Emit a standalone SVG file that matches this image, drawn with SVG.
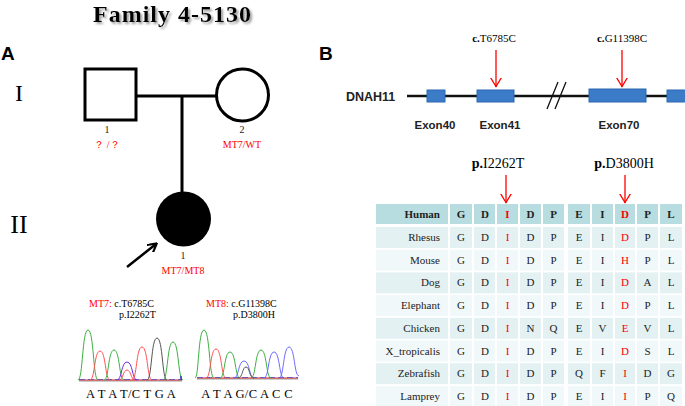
<svg xmlns="http://www.w3.org/2000/svg" width="685" height="406" viewBox="0 0 685 406">
<defs>
<style>
.serif{font-family:"Liberation Serif","Times New Roman",serif}
.sans{font-family:"Liberation Sans",Arial,sans-serif}
.ped{fill:none;stroke:#000;stroke-width:3}
.lbl{font-size:10px;text-anchor:middle;fill:#222}
.exon{fill:#3b7bc8;stroke:#2c69b0;stroke-width:1}
.exl{font-size:11.5px;font-weight:bold;text-anchor:middle;fill:#222}
.ra{stroke:#ff0000;stroke-width:1.3;fill:none}
.hd{fill:#b8dde1}
.r0{fill:#e3f1f3}
.r1{fill:#f1f8fa}
.tc{font-size:11px;text-anchor:middle;fill:#222}
.sp{font-size:11px;text-anchor:end;fill:#222}
.pk{fill:none;stroke-width:1}
.red,.tc.red,.lbl.red{fill:#ff0000}
</style>
<marker id="rh" viewBox="0 0 10 12" refX="9.5" refY="6" markerWidth="10" markerHeight="12" markerUnits="userSpaceOnUse" orient="auto">
<path d="M0,0.5 L9,6 L0,11.5" fill="none" stroke="#ff0000" stroke-width="1.3"/>
</marker>
<marker id="bh" viewBox="0 0 10 10" refX="8" refY="5" markerWidth="4" markerHeight="4" orient="auto">
<path d="M0,0 L9,5 L0,10" fill="none" stroke="#000" stroke-width="2.2"/>
</marker>
<filter id="sh" x="-10%" y="-40%" width="125%" height="190%">
<feGaussianBlur in="SourceAlpha" stdDeviation="1.2" result="b"/>
<feOffset dx="2" dy="2" result="o"/>
<feFlood flood-color="#888" flood-opacity="0.8"/>
<feComposite in2="o" operator="in" result="s"/>
<feMerge><feMergeNode in="s"/><feMergeNode in="SourceGraphic"/></feMerge>
</filter>
</defs>
<rect width="685" height="406" fill="#fff"/>

<!-- Title -->
<g id="title">
<text x="93" y="22" class="serif" font-size="24" font-weight="bold" fill="#000" textLength="158" lengthAdjust="spacing" filter="url(#sh)">Family 4-5130</text>
</g>
<text x="1" y="60" class="sans" font-size="19" font-weight="bold">A</text>
<text x="319" y="60" class="sans" font-size="19" font-weight="bold">B</text>

<!-- Pedigree -->
<text x="19" y="101" class="serif" font-size="24" text-anchor="middle">I</text>
<text x="19" y="233" class="serif" font-size="26" text-anchor="middle">II</text>
<g id="connectors">
<line x1="137" y1="96" x2="216" y2="96" stroke="#000" stroke-width="3"/>
<line x1="182" y1="96" x2="182" y2="193" stroke="#000" stroke-width="3"/>
<line x1="127" y1="267" x2="156" y2="244" stroke="#000" stroke-width="2.5" marker-end="url(#bh)"/>
</g>
<g id="I-1">
<rect x="85" y="69" width="51" height="51" class="ped"/>
<text x="107" y="133" class="serif lbl">1</text>
<text x="107" y="148" class="serif lbl red">？ /？</text>
</g>
<g id="I-2">
<circle cx="242.5" cy="95" r="26" class="ped"/>
<text x="242" y="133" class="serif lbl">2</text>
<text x="242" y="148" class="serif lbl red">MT7/WT</text>
</g>
<g id="II-1">
<circle cx="183.5" cy="219" r="27.5" fill="#000"/>
<text x="183" y="259" class="serif lbl">1</text>
<text x="183" y="274" class="serif lbl red">MT7/MT8</text>
</g>

<!-- Mutation labels -->
<text x="89" y="307" class="serif" font-size="10"><tspan fill="#ff0000">MT7:</tspan> c.T6785C</text>
<text x="119" y="318" class="serif" font-size="10">p.I2262T</text>
<text x="206" y="307" class="serif" font-size="10"><tspan fill="#ff0000">MT8:</tspan> c.G11398C</text>
<text x="233" y="318" class="serif" font-size="10">p.D3800H</text>

<!-- Chromatogram 1 -->
<g id="chrom1">
<line x1="79" y1="381" x2="182" y2="381" stroke="#ccc" stroke-width="2"/>
<line x1="79" y1="380" x2="182" y2="380" stroke="#d02020" stroke-width="1"/>
<line x1="79" y1="379.5" x2="182" y2="379.5" stroke="#3030c0" stroke-width="0.6" stroke-dasharray="6 3"/>
<path class="pk" stroke="#3cb043" d="M78,380 C83,380 82,330 88,330 C94,330 93,380 98,380"/>
<path class="pk" stroke="#ff5050" d="M90,380 C95,380 94,351 100,351 C106,351 105,380 110,380"/>
<path class="pk" stroke="#3cb043" d="M104,380 C109,380 108,350 114,350 C120,350 119,380 124,380"/>
<path class="pk" stroke="#ff5050" d="M119,380 C123,380 123,370 127,370 C131,370 131,380 135,380"/>
<path class="pk" stroke="#6a30e0" d="M117,380 C122,380 121,362 127,362 C133,362 132,380 137,380"/>
<path class="pk" stroke="#ff5050" d="M132,380 C137,380 136,347 142,347 C148,347 147,380 152,380"/>
<path class="pk" stroke="#555" d="M147,380 C152,380 151,338 157,338 C163,338 162,380 167,380"/>
<path class="pk" stroke="#3cb043" d="M163,380 C168,380 167,342 173,342 C179,342 178,380 183,380"/>
<line x1="181" y1="376" x2="181" y2="380" stroke="#3030c0" stroke-width="1.5"/>
</g>
<text x="131" y="398" class="serif" font-size="12.5" text-anchor="middle" letter-spacing="0.3">A T A T/C  T G  A</text>

<!-- Chromatogram 2 -->
<g id="chrom2">
<line x1="197" y1="379" x2="298" y2="379" stroke="#ccc" stroke-width="2"/>
<line x1="197" y1="378" x2="298" y2="378" stroke="#d02020" stroke-width="1"/>
<line x1="197" y1="377.5" x2="298" y2="377.5" stroke="#3030c0" stroke-width="0.6" stroke-dasharray="6 3"/>
<path class="pk" stroke="#3cb043" d="M195,378 C199,378 198,330 204,330 C210,330 209,378 214,378"/>
<path class="pk" stroke="#ff5050" d="M206,378 C211,378 210,349 216,349 C222,349 221,378 226,378"/>
<path class="pk" stroke="#3cb043" d="M220,378 C225,378 224,352 230,352 C236,352 235,378 240,378"/>
<path class="pk" stroke="#6a6aff" d="M234,378 C239,378 238,361 244,361 C250,361 249,378 254,378"/>
<path class="pk" stroke="#555" d="M238,378 C243,378 242,367 246,367 C250,367 249,378 254,378"/>
<path class="pk" stroke="#3cb043" d="M251,378 C256,378 255,350 261,350 C267,350 266,378 271,378"/>
<path class="pk" stroke="#6a6aff" d="M264,378 C269,378 268,352 274,352 C280,352 279,378 284,378"/>
<path class="pk" stroke="#6a6aff" d="M279,378 C284,378 283,347 289,347 C295,347 294,376 299,376"/>
</g>
<text x="247" y="398" class="serif" font-size="12.5" text-anchor="middle" letter-spacing="0.3">A T  A G/C A C C</text>

<!-- Gene structure -->
<g id="gene">
<text x="346" y="101" class="sans" font-size="12.5" font-weight="bold" fill="#222">DNAH11</text>
<line x1="407" y1="96" x2="685" y2="96" stroke="#111" stroke-width="2.5"/>
<rect x="427" y="90" width="18" height="12" class="exon"/>
<rect x="477" y="90" width="37" height="12" class="exon"/>
<rect x="589" y="89" width="57" height="13" class="exon"/>
<rect x="667" y="90" width="20" height="12" class="exon"/>
<line x1="547" y1="109" x2="558" y2="82" stroke="#111" stroke-width="1.3"/>
<line x1="555" y1="109" x2="566" y2="82" stroke="#111" stroke-width="1.3"/>
<text x="435" y="129" class="sans exl">Exon40</text>
<text x="500" y="129" class="sans exl">Exon41</text>
<text x="619" y="129" class="sans exl">Exon70</text>
<text x="494" y="42" class="serif" font-size="11" text-anchor="middle"><tspan font-weight="bold">c.</tspan>T6785C</text>
<text x="622" y="42" class="serif" font-size="11" text-anchor="middle"><tspan font-weight="bold">c.</tspan>G11398C</text>
<line x1="496" y1="50" x2="496" y2="87" class="ra" marker-end="url(#rh)"/>
<line x1="622" y1="50" x2="622" y2="87" class="ra" marker-end="url(#rh)"/>
</g>

<!-- Protein labels -->
<text x="498" y="168" class="serif" font-size="14" text-anchor="middle"><tspan font-weight="bold">p.</tspan>I2262T</text>
<text x="624" y="168" class="serif" font-size="14" text-anchor="middle"><tspan font-weight="bold">p.</tspan>D3800H</text>
<line x1="506" y1="175" x2="506" y2="203" class="ra" marker-end="url(#rh)"/>
<line x1="625" y1="175" x2="625" y2="203" class="ra" marker-end="url(#rh)"/>

<!-- Alignment table -->
<g id="table" class="serif">
<g class="hd">
<rect x="376" y="204" width="72" height="20"/><rect x="450" y="204" width="22" height="20"/><rect x="474" y="204" width="21" height="20"/><rect x="497" y="204" width="21" height="20"/><rect x="520" y="204" width="21" height="20"/><rect x="543" y="204" width="21" height="20"/><rect x="568" y="204" width="22" height="20"/><rect x="592" y="204" width="21" height="20"/><rect x="615" y="204" width="20" height="20"/><rect x="637" y="204" width="21" height="20"/><rect x="660" y="204" width="22" height="20"/>
</g>
<g font-weight="bold">
<text x="440" y="218" class="sp">Human</text>
<text x="461" y="218" class="tc">G</text><text x="485" y="218" class="tc">D</text><text x="507.5" y="218" class="tc red">I</text><text x="530.5" y="218" class="tc">D</text><text x="553.5" y="218" class="tc">P</text><text x="579" y="218" class="tc">E</text><text x="602.5" y="218" class="tc">I</text><text x="625" y="218" class="tc red">D</text><text x="647.5" y="218" class="tc">P</text><text x="671" y="218" class="tc">L</text>
</g>
<!-- rows -->
<g class="r0"><rect x="376" y="227" width="72" height="21"/><rect x="450" y="227" width="22" height="21"/><rect x="474" y="227" width="21" height="21"/><rect x="497" y="227" width="21" height="21"/><rect x="520" y="227" width="21" height="21"/><rect x="543" y="227" width="21" height="21"/><rect x="568" y="227" width="22" height="21"/><rect x="592" y="227" width="21" height="21"/><rect x="615" y="227" width="20" height="21"/><rect x="637" y="227" width="21" height="21"/><rect x="660" y="227" width="22" height="21"/></g>
<g class="r1"><rect x="376" y="249.7" width="72" height="21"/><rect x="450" y="249.7" width="22" height="21"/><rect x="474" y="249.7" width="21" height="21"/><rect x="497" y="249.7" width="21" height="21"/><rect x="520" y="249.7" width="21" height="21"/><rect x="543" y="249.7" width="21" height="21"/><rect x="568" y="249.7" width="22" height="21"/><rect x="592" y="249.7" width="21" height="21"/><rect x="615" y="249.7" width="20" height="21"/><rect x="637" y="249.7" width="21" height="21"/><rect x="660" y="249.7" width="22" height="21"/></g>
<g class="r0"><rect x="376" y="272.4" width="72" height="21"/><rect x="450" y="272.4" width="22" height="21"/><rect x="474" y="272.4" width="21" height="21"/><rect x="497" y="272.4" width="21" height="21"/><rect x="520" y="272.4" width="21" height="21"/><rect x="543" y="272.4" width="21" height="21"/><rect x="568" y="272.4" width="22" height="21"/><rect x="592" y="272.4" width="21" height="21"/><rect x="615" y="272.4" width="20" height="21"/><rect x="637" y="272.4" width="21" height="21"/><rect x="660" y="272.4" width="22" height="21"/></g>
<g class="r1"><rect x="376" y="295.1" width="72" height="21"/><rect x="450" y="295.1" width="22" height="21"/><rect x="474" y="295.1" width="21" height="21"/><rect x="497" y="295.1" width="21" height="21"/><rect x="520" y="295.1" width="21" height="21"/><rect x="543" y="295.1" width="21" height="21"/><rect x="568" y="295.1" width="22" height="21"/><rect x="592" y="295.1" width="21" height="21"/><rect x="615" y="295.1" width="20" height="21"/><rect x="637" y="295.1" width="21" height="21"/><rect x="660" y="295.1" width="22" height="21"/></g>
<g class="r0"><rect x="376" y="317.8" width="72" height="21"/><rect x="450" y="317.8" width="22" height="21"/><rect x="474" y="317.8" width="21" height="21"/><rect x="497" y="317.8" width="21" height="21"/><rect x="520" y="317.8" width="21" height="21"/><rect x="543" y="317.8" width="21" height="21"/><rect x="568" y="317.8" width="22" height="21"/><rect x="592" y="317.8" width="21" height="21"/><rect x="615" y="317.8" width="20" height="21"/><rect x="637" y="317.8" width="21" height="21"/><rect x="660" y="317.8" width="22" height="21"/></g>
<g class="r1"><rect x="376" y="340.5" width="72" height="21"/><rect x="450" y="340.5" width="22" height="21"/><rect x="474" y="340.5" width="21" height="21"/><rect x="497" y="340.5" width="21" height="21"/><rect x="520" y="340.5" width="21" height="21"/><rect x="543" y="340.5" width="21" height="21"/><rect x="568" y="340.5" width="22" height="21"/><rect x="592" y="340.5" width="21" height="21"/><rect x="615" y="340.5" width="20" height="21"/><rect x="637" y="340.5" width="21" height="21"/><rect x="660" y="340.5" width="22" height="21"/></g>
<g class="r0"><rect x="376" y="363.2" width="72" height="21"/><rect x="450" y="363.2" width="22" height="21"/><rect x="474" y="363.2" width="21" height="21"/><rect x="497" y="363.2" width="21" height="21"/><rect x="520" y="363.2" width="21" height="21"/><rect x="543" y="363.2" width="21" height="21"/><rect x="568" y="363.2" width="22" height="21"/><rect x="592" y="363.2" width="21" height="21"/><rect x="615" y="363.2" width="20" height="21"/><rect x="637" y="363.2" width="21" height="21"/><rect x="660" y="363.2" width="22" height="21"/></g>
<g class="r1"><rect x="376" y="385.9" width="72" height="21"/><rect x="450" y="385.9" width="22" height="21"/><rect x="474" y="385.9" width="21" height="21"/><rect x="497" y="385.9" width="21" height="21"/><rect x="520" y="385.9" width="21" height="21"/><rect x="543" y="385.9" width="21" height="21"/><rect x="568" y="385.9" width="22" height="21"/><rect x="592" y="385.9" width="21" height="21"/><rect x="615" y="385.9" width="20" height="21"/><rect x="637" y="385.9" width="21" height="21"/><rect x="660" y="385.9" width="22" height="21"/></g>

<text x="440" y="241" class="sp">Rhesus</text>
<text x="461" y="241" class="tc">G</text><text x="485" y="241" class="tc">D</text><text x="507.5" y="241" class="tc red">I</text><text x="530.5" y="241" class="tc">D</text><text x="553.5" y="241" class="tc">P</text><text x="579" y="241" class="tc">E</text><text x="602.5" y="241" class="tc">I</text><text x="625" y="241" class="tc red">D</text><text x="647.5" y="241" class="tc">P</text><text x="671" y="241" class="tc">L</text>

<text x="440" y="263.7" class="sp">Mouse</text>
<text x="461" y="263.7" class="tc">G</text><text x="485" y="263.7" class="tc">D</text><text x="507.5" y="263.7" class="tc red">I</text><text x="530.5" y="263.7" class="tc">D</text><text x="553.5" y="263.7" class="tc">P</text><text x="579" y="263.7" class="tc">E</text><text x="602.5" y="263.7" class="tc">I</text><text x="625" y="263.7" class="tc red">H</text><text x="647.5" y="263.7" class="tc">P</text><text x="671" y="263.7" class="tc">L</text>

<text x="440" y="286.4" class="sp">Dog</text>
<text x="461" y="286.4" class="tc">G</text><text x="485" y="286.4" class="tc">D</text><text x="507.5" y="286.4" class="tc red">I</text><text x="530.5" y="286.4" class="tc">D</text><text x="553.5" y="286.4" class="tc">P</text><text x="579" y="286.4" class="tc">E</text><text x="602.5" y="286.4" class="tc">I</text><text x="625" y="286.4" class="tc red">D</text><text x="647.5" y="286.4" class="tc">A</text><text x="671" y="286.4" class="tc">L</text>

<text x="440" y="309.1" class="sp">Elephant</text>
<text x="461" y="309.1" class="tc">G</text><text x="485" y="309.1" class="tc">D</text><text x="507.5" y="309.1" class="tc red">I</text><text x="530.5" y="309.1" class="tc">D</text><text x="553.5" y="309.1" class="tc">P</text><text x="579" y="309.1" class="tc">E</text><text x="602.5" y="309.1" class="tc">I</text><text x="625" y="309.1" class="tc red">D</text><text x="647.5" y="309.1" class="tc">P</text><text x="671" y="309.1" class="tc">L</text>

<text x="440" y="331.8" class="sp">Chicken</text>
<text x="461" y="331.8" class="tc">G</text><text x="485" y="331.8" class="tc">D</text><text x="507.5" y="331.8" class="tc red">I</text><text x="530.5" y="331.8" class="tc">N</text><text x="553.5" y="331.8" class="tc">Q</text><text x="579" y="331.8" class="tc">E</text><text x="602.5" y="331.8" class="tc">V</text><text x="625" y="331.8" class="tc red">E</text><text x="647.5" y="331.8" class="tc">V</text><text x="671" y="331.8" class="tc">L</text>

<text x="440" y="354.5" class="sp">X_tropicalis</text>
<text x="461" y="354.5" class="tc">G</text><text x="485" y="354.5" class="tc">D</text><text x="507.5" y="354.5" class="tc red">I</text><text x="530.5" y="354.5" class="tc">D</text><text x="553.5" y="354.5" class="tc">P</text><text x="579" y="354.5" class="tc">E</text><text x="602.5" y="354.5" class="tc">I</text><text x="625" y="354.5" class="tc red">D</text><text x="647.5" y="354.5" class="tc">S</text><text x="671" y="354.5" class="tc">L</text>

<text x="440" y="377.2" class="sp">Zebrafish</text>
<text x="461" y="377.2" class="tc">G</text><text x="485" y="377.2" class="tc">D</text><text x="507.5" y="377.2" class="tc red">I</text><text x="530.5" y="377.2" class="tc">D</text><text x="553.5" y="377.2" class="tc">P</text><text x="579" y="377.2" class="tc">Q</text><text x="602.5" y="377.2" class="tc">F</text><text x="625" y="377.2" class="tc red">I</text><text x="647.5" y="377.2" class="tc">D</text><text x="671" y="377.2" class="tc">G</text>

<text x="440" y="399.9" class="sp">Lamprey</text>
<text x="461" y="399.9" class="tc">G</text><text x="485" y="399.9" class="tc">D</text><text x="507.5" y="399.9" class="tc red">I</text><text x="530.5" y="399.9" class="tc">D</text><text x="553.5" y="399.9" class="tc">P</text><text x="579" y="399.9" class="tc">E</text><text x="602.5" y="399.9" class="tc">I</text><text x="625" y="399.9" class="tc red">I</text><text x="647.5" y="399.9" class="tc">P</text><text x="671" y="399.9" class="tc">Q</text>
</g>
</svg>
